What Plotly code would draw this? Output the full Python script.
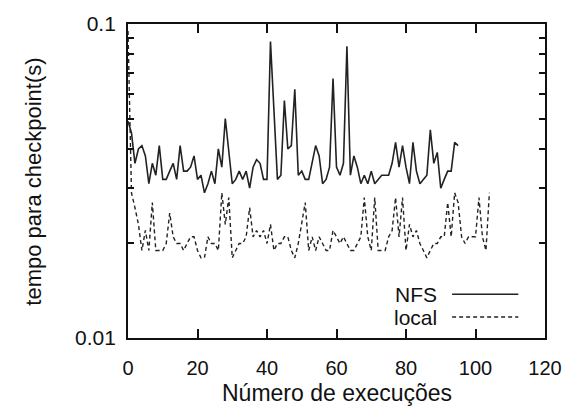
import plotly.graph_objects as go

# ---- data ----
nfs_x = list(range(0, 96))
nfs_y = [
    0.049, 0.045, 0.036, 0.040, 0.041, 0.038, 0.031, 0.036, 0.033, 0.041,
    0.032, 0.032, 0.034, 0.036, 0.032, 0.041, 0.034, 0.034, 0.035, 0.038,
    0.032, 0.033, 0.029, 0.031, 0.034, 0.031, 0.040, 0.035, 0.050, 0.040,
    0.031, 0.032, 0.034, 0.032, 0.034, 0.030, 0.035, 0.037, 0.036, 0.032,
    0.032, 0.088, 0.055, 0.032, 0.033, 0.057, 0.040, 0.041, 0.062, 0.033,
    0.034, 0.032, 0.032, 0.036, 0.041, 0.038, 0.031, 0.032, 0.035, 0.067,
    0.035, 0.033, 0.036, 0.085, 0.033, 0.038, 0.035, 0.031, 0.033, 0.031,
    0.034, 0.031, 0.032, 0.033, 0.033, 0.033, 0.036, 0.042, 0.035, 0.041,
    0.035, 0.031, 0.042, 0.034, 0.031, 0.032, 0.033, 0.046, 0.036, 0.039,
    0.030, 0.032, 0.034, 0.034, 0.042, 0.041,
]

local_x = list(range(0, 105))
local_y = [
    0.095, 0.029, 0.026, 0.023, 0.019, 0.022, 0.019, 0.027, 0.019, 0.019,
    0.019, 0.020, 0.025, 0.021, 0.020, 0.020, 0.019, 0.020, 0.021, 0.021,
    0.019, 0.018, 0.018, 0.021, 0.020, 0.020, 0.019, 0.029, 0.023, 0.028,
    0.018, 0.019, 0.020, 0.020, 0.021, 0.026, 0.021, 0.022, 0.021, 0.022,
    0.020, 0.023, 0.019, 0.020, 0.020, 0.021, 0.021, 0.019, 0.018, 0.020,
    0.023, 0.027, 0.019, 0.021, 0.019, 0.021, 0.020, 0.019, 0.019, 0.022,
    0.021, 0.020, 0.021, 0.020, 0.019, 0.019, 0.020, 0.021, 0.028, 0.021,
    0.019, 0.028, 0.019, 0.019, 0.019, 0.021, 0.022, 0.028, 0.021, 0.028,
    0.019, 0.023, 0.021, 0.022, 0.020, 0.019, 0.018, 0.019, 0.020, 0.020,
    0.021, 0.021, 0.027, 0.021, 0.029, 0.027, 0.021, 0.020, 0.021, 0.021,
    0.021, 0.028, 0.021, 0.019, 0.029,
]

x_ticks = [0, 20, 40, 60, 80, 100, 120]
y_ticks = [0.01, 0.1]
y_ticktext = ["0.01", "0.1"]
y_minor = [0.02, 0.03, 0.04, 0.05, 0.06, 0.07, 0.08, 0.09]
series_names = ["NFS", "local"]

FONT = "Liberation Sans, Arial, Helvetica, sans-serif"
LINE_COL = "#222222"

fig = go.Figure()
fig.add_trace(go.Scatter(x=nfs_x, y=nfs_y, mode="lines", name=series_names[0],
                         line=dict(color=LINE_COL, width=1.6), showlegend=False))
fig.add_trace(go.Scatter(x=local_x, y=local_y, mode="lines", name=series_names[1],
                         line=dict(color=LINE_COL, width=1.4, dash="4px,3px"),
                         showlegend=False))

L, R, T, B = 128, 24, 23, 69
W, H = 574, 407
pw, ph = W - L - R, H - T - B

fig.update_layout(
    width=W, height=H,
    margin=dict(l=L, r=R, t=T, b=B, pad=0),
    paper_bgcolor="white", plot_bgcolor="white",
    font=dict(family=FONT, size=20, color="#111"),
    showlegend=False,
)
fig.update_xaxes(
    range=[0, 120], tickvals=x_ticks, ticks="inside", ticklen=9, tickwidth=1.5,
    tickcolor="#111", showline=True, linecolor="#111", linewidth=1.8,
    mirror="allticks", showgrid=False, zeroline=False,
    tickfont=dict(size=20), ticklabelstandoff=11,
)
fig.update_yaxes(
    type="log", range=[-2, -1], tickvals=y_ticks, ticktext=y_ticktext,
    ticks="inside", ticklen=9, tickwidth=1.5, tickcolor="#111",
    showline=True, linecolor="#111", linewidth=1.8, mirror="allticks",
    showgrid=False, zeroline=False, tickfont=dict(size=21), ticklabelstandoff=6,
    minor=dict(tickmode="array", tickvals=y_minor, ticks="inside", ticklen=6,
               tickwidth=1.5, tickcolor="#111", showgrid=False),
)

# axis titles
fig.add_annotation(text="Número de execuções", xref="paper", yref="paper",
                   x=(339 - L) / pw, y=-(393 - (T + ph)) / ph,
                   showarrow=False, font=dict(size=23, family=FONT),
                   xanchor="center", yanchor="middle")
fig.add_annotation(text="tempo para checkpoint(s)", xref="paper", yref="paper",
                   x=-(L - 32) / pw, y=(T + ph - 181) / ph, textangle=-90,
                   showarrow=False, font=dict(size=22, family=FONT),
                   xanchor="center", yanchor="middle")

# legend (gnuplot style: label on the left, sample on the right)
def px(xp):
    return (xp - L) / pw

def py(yp):
    return (T + ph - yp) / ph

for name, ypix, dash in [(series_names[0], 294, "solid"), (series_names[1], 317, "4px,3px")]:
    fig.add_annotation(text=name, xref="paper", yref="paper", x=px(443), y=py(ypix),
                       showarrow=False, xanchor="right", yanchor="middle",
                       font=dict(size=21, family=FONT))
    fig.add_shape(type="line", xref="paper", yref="paper",
                  x0=px(456), x1=px(523), y0=py(ypix), y1=py(ypix),
                  line=dict(color=LINE_COL, width=1.5, dash=dash))

fig.write_html("out.html")
